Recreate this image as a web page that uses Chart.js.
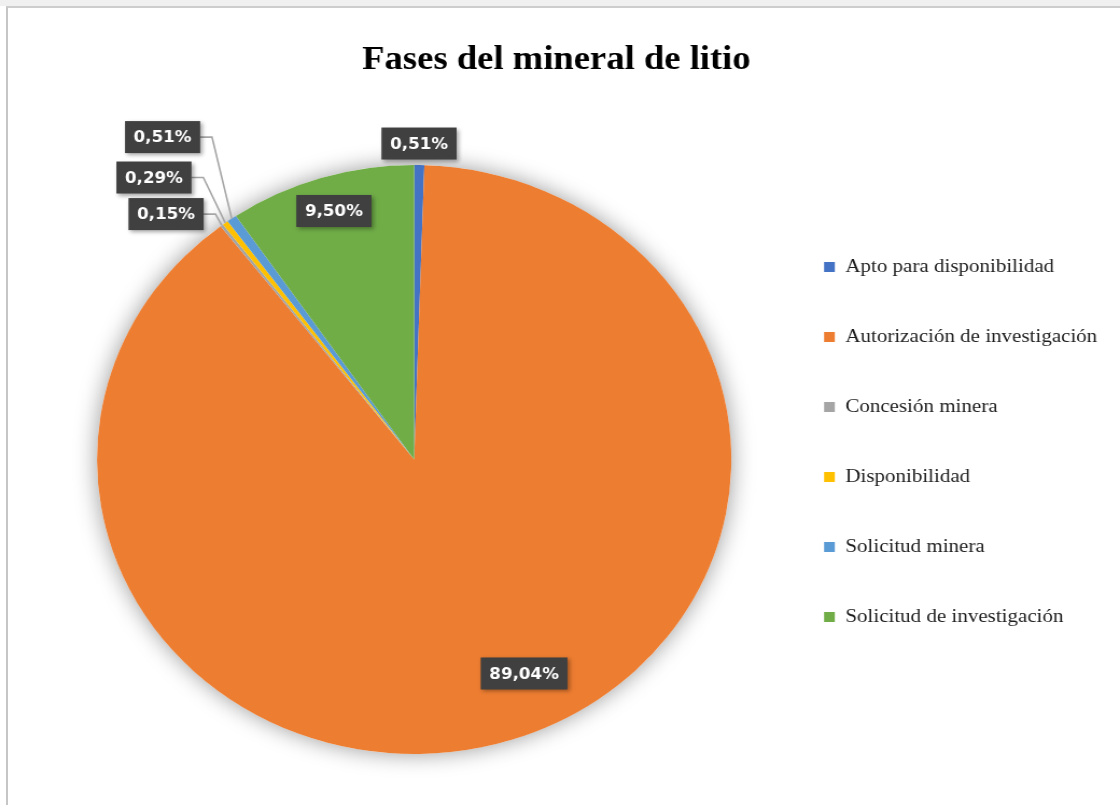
<!DOCTYPE html>
<html>
<head>
<meta charset="utf-8">
<script src="https://cdn.jsdelivr.net/npm/chart.js@4.4.1/dist/chart.umd.min.js"></script>
<style>
html, body { margin: 0; padding: 0; background: #ffffff; width: 1120px; height: 805px; overflow: hidden; }
#band { position: absolute; left: 0; top: 0; width: 1120px; height: 6px; background: #f0f0f0; }
#frame { position: absolute; left: 6px; top: 6px; width: 1114px; height: 799px; box-sizing: border-box;
         border-top: 2px solid #cdcdcd; border-left: 2px solid #c6c6c6; }
#wrap { position: absolute; left: 0; top: 0; width: 1040px; height: 805px;
        transform: scaleX(1.076923); transform-origin: 0 0; }
</style>
</head>
<body>
<div id="band"></div>
<div id="frame"></div>
<div id="wrap"><canvas id="c" width="1040" height="805" style="width:1040px;height:805px"></canvas></div>
<script>
// ---- data ----
const chartTitle = 'Fases del mineral de litio';
const categories = [
  'Apto para disponibilidad',
  'Autorización de investigación',
  'Concesión minera',
  'Disponibilidad',
  'Solicitud minera',
  'Solicitud de investigación'
];
const percentages = [0.51, 89.04, 0.15, 0.29, 0.51, 9.50];

// ---- styles ----
const sliceColors = ['#4472C4', '#ED7D31', '#A5A5A5', '#FFC000', '#5B9BD5', '#70AD47'];
// label placement: radial factor of outer radius and angular shift (deg) from slice middle
const labelPlacement = [
  { r: 1.073, dA: -0.1, leader: false },
  { r: 0.805, dA: -7.6, leader: false },
  { r: 1.143, dA: -5.84, leader: true },
  { r: 1.261, dA: -4.04, leader: true },
  { r: 1.352, dA: -0.81, leader: true },
  { r: 0.881, dA: 0.4, leader: false }
];
const LABEL_FONT = 'bold 15.5px "DejaVu Sans", sans-serif';
const LABEL_PAD_X = 8;
const LABEL_BOX_H = 32;

function fmtPct(v) { return v.toFixed(2).replace('.', ',') + '%'; }

const pieShadow = {
  id: 'pieShadow',
  beforeDatasetsDraw(chart) {
    const meta = chart.getDatasetMeta(0);
    const a = meta.data[0];
    if (!a) return;
    const p = a.getProps(['x', 'y', 'outerRadius'], true);
    const ctx = chart.ctx;
    ctx.save();
    ctx.shadowColor = 'rgba(0,0,0,0.40)';
    ctx.shadowBlur = 22;
    ctx.beginPath();
    ctx.arc(p.x, p.y, p.outerRadius, 0, Math.PI * 2);
    ctx.fillStyle = '#ffffff';
    ctx.fill();
    ctx.restore();
  }
};

// let the legend text run past the narrowed legend box (no clipping)
const legendUnclip = {
  id: 'legendUnclip',
  afterLayout(chart) {
    if (chart.legend) chart.legend.right = chart.width;
  }
};

const sliceLabels = {
  id: 'sliceLabels',
  afterDatasetsDraw(chart) {
    const ctx = chart.ctx;
    const meta = chart.getDatasetMeta(0);
    const values = chart.data.datasets[0].data;
    ctx.save();
    ctx.font = LABEL_FONT;
    const boxes = meta.data.map((arc, i) => {
      const p = arc.getProps(['x', 'y', 'startAngle', 'endAngle', 'outerRadius'], true);
      const place = labelPlacement[i];
      const mid = (p.startAngle + p.endAngle) / 2;
      const ang = mid + place.dA * Math.PI / 180;
      const cx = p.x + Math.cos(ang) * p.outerRadius * place.r;
      const cy = p.y + Math.sin(ang) * p.outerRadius * place.r;
      const text = fmtPct(values[i]);
      const w = ctx.measureText(text).width + 2 * LABEL_PAD_X;
      return { p, mid, cx, cy, text, w, place };
    });
    // leader lines
    boxes.forEach(b => {
      if (!b.place.leader) return;
      const ex = b.p.x + Math.cos(b.mid) * b.p.outerRadius;
      const ey = b.p.y + Math.sin(b.mid) * b.p.outerRadius;
      const rx = b.cx + b.w / 2;
      ctx.beginPath();
      ctx.moveTo(rx, b.cy);
      ctx.lineTo(rx + 11, b.cy);
      ctx.lineTo(ex, ey);
      ctx.strokeStyle = '#a6a6a6';
      ctx.lineWidth = 1.6;
      ctx.stroke();
    });
    // boxes + text
    boxes.forEach(b => {
      ctx.save();
      ctx.shadowColor = 'rgba(0,0,0,0.35)';
      ctx.shadowBlur = 4;
      ctx.shadowOffsetX = 2;
      ctx.shadowOffsetY = 2;
      ctx.fillStyle = '#404040';
      ctx.fillRect(b.cx - b.w / 2, b.cy - LABEL_BOX_H / 2, b.w, LABEL_BOX_H);
      ctx.restore();
      ctx.fillStyle = '#ffffff';
      ctx.textAlign = 'center';
      ctx.textBaseline = 'middle';
      ctx.fillText(b.text, b.cx, b.cy + 1);
    });
    ctx.restore();
  }
};

new Chart(document.getElementById('c'), {
  type: 'pie',
  data: {
    labels: categories,
    datasets: [{
      data: percentages,
      backgroundColor: sliceColors,
      borderWidth: 0,
      hoverOffset: 0,
      radius: 294.5,
      clip: false
    }]
  },
  options: {
    responsive: false,
    animation: false,
    devicePixelRatio: 1,
    events: [],
    layout: { padding: { left: 54.5, right: 61.1, top: 0, bottom: 92.75 } },
    plugins: {
      title: {
        display: true,
        text: chartTitle,
        color: '#000000',
        font: { family: '"Liberation Serif", "Times New Roman", serif', size: 34, weight: 'bold', lineHeight: 1.2 },
        padding: { top: 39.6, bottom: 126.35 }
      },
      legend: {
        position: 'right',
        align: 'start',
        fullSize: false,
        maxWidth: 264.2,
        labels: {
          boxWidth: 10,
          boxHeight: 10,
          padding: 50.5,
          color: '#1e1e1e',
          font: { family: '"Liberation Serif", "Times New Roman", serif', size: 19.5 }
        }
      },
      tooltip: { enabled: false }
    }
  },
  plugins: [pieShadow, legendUnclip, sliceLabels]
});
</script>
</body>
</html>
